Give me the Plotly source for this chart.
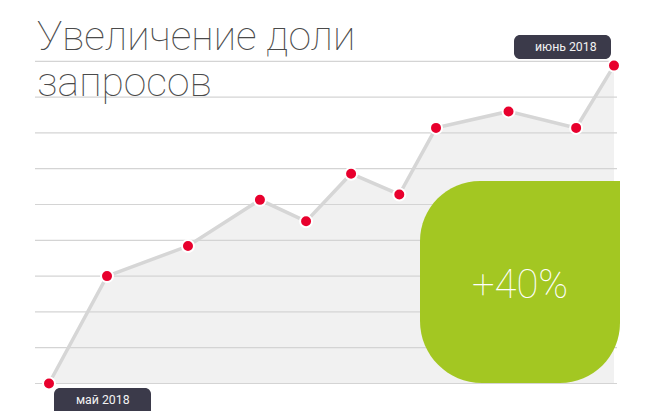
import plotly.graph_objects as go

W, H = 656, 411

# Data: day offset from start (May 2018 -> June 2018) and relative request share
days = [0, 3.08, 7.38, 11.2, 13.65, 16.04, 18.6, 20.55, 24.4, 27.99, 30]
share = [0, 3.0, 3.84, 5.13, 4.53, 5.86, 5.28, 7.14, 7.60, 7.14, 8.88]
grid_levels = [0, 1, 2, 3, 4, 5, 6, 7, 8, 9]
title_lines = ["Увеличение доли", "запросов"]
start_label = "май 2018"
end_label = "июнь 2018"
growth_label = "+40%"

# axis scaling (pixels per unit)
X0_PX, XPU = 49.0, 18.833
Y0_PX, YPU = 383.5, 35.8
x_range = [-X0_PX / XPU, (W - X0_PX) / XPU]
y_range = [-(H - Y0_PX) / YPU, Y0_PX / YPU]


def px(x):
    return x / W


def py(y):
    return 1 - y / H


def rounded_path(x0, y0, x1, y1, r_tl, r_tr, r_br, r_bl):
    # pixel coordinates (y downwards) -> paper path
    k = 0.5523
    p = []
    p.append(f"M {px(x0 + r_tl)},{py(y0)}")
    p.append(f"L {px(x1 - r_tr)},{py(y0)}")
    p.append(f"C {px(x1 - r_tr + k * r_tr)},{py(y0)} {px(x1)},{py(y0 + r_tr - k * r_tr)} {px(x1)},{py(y0 + r_tr)}")
    p.append(f"L {px(x1)},{py(y1 - r_br)}")
    p.append(f"C {px(x1)},{py(y1 - r_br + k * r_br)} {px(x1 - r_br + k * r_br)},{py(y1)} {px(x1 - r_br)},{py(y1)}")
    p.append(f"L {px(x0 + r_bl)},{py(y1)}")
    p.append(f"C {px(x0 + r_bl - k * r_bl)},{py(y1)} {px(x0)},{py(y1 - r_bl + k * r_bl)} {px(x0)},{py(y1 - r_bl)}")
    p.append(f"L {px(x0)},{py(y0 + r_tl)}")
    p.append(f"C {px(x0)},{py(y0 + r_tl - k * r_tl)} {px(x0 + r_tl - k * r_tl)},{py(y0)} {px(x0 + r_tl)},{py(y0)}")
    p.append("Z")
    return " ".join(p)


fig = go.Figure()

# filled area under the line
fig.add_trace(go.Scatter(
    x=days, y=share, mode="none", fill="tozeroy", fillcolor="#f1f1f1",
    hoverinfo="skip", showlegend=False))

# grid lines
gx0 = (35 - X0_PX) / XPU
gx1 = (617 - X0_PX) / XPU
gxs, gys = [], []
for g in grid_levels:
    gxs += [gx0, gx1, None]
    gys += [g, g, None]
fig.add_trace(go.Scatter(
    x=gxs, y=gys, mode="lines", line=dict(color="#d4d4d4", width=1.2),
    hoverinfo="skip", showlegend=False))

# line with markers
fig.add_trace(go.Scatter(
    x=days, y=share, mode="lines+markers",
    line=dict(color="#d6d6d6", width=3.5),
    marker=dict(color="#e8002d", size=12, line=dict(color="white", width=2)),
    showlegend=False))

shapes = [
    dict(type="path", xref="paper", yref="paper",
         path=rounded_path(420, 181, 620, 383, 60, 0, 60, 62),
         fillcolor="#a3c722", line=dict(width=0), layer="above"),
    dict(type="path", xref="paper", yref="paper",
         path=rounded_path(514, 35, 611, 59, 6, 6, 6, 6),
         fillcolor="#3b3a4a", line=dict(width=0), layer="above"),
    dict(type="path", xref="paper", yref="paper",
         path=rounded_path(54, 388, 151, 418, 6, 6, 6, 6),
         fillcolor="#3b3a4a", line=dict(width=0), layer="above"),
]

title_font = dict(family="Roboto", size=40.8, color="#4a4a4a", weight=100)
annotations = [
    dict(text=title_lines[0], x=px(35), y=py(36), xref="paper", yref="paper",
         xanchor="left", yanchor="middle", showarrow=False, font=title_font),
    dict(text=title_lines[1], x=px(35), y=py(82), xref="paper", yref="paper",
         xanchor="left", yanchor="middle", showarrow=False, font=title_font),
    dict(text=growth_label, x=px(520), y=py(284), xref="paper", yref="paper",
         xanchor="center", yanchor="middle", showarrow=False,
         font=dict(family="Roboto", size=40, color="white", weight=100)),
    dict(text=end_label, x=px(566), y=py(47), xref="paper", yref="paper",
         xanchor="center", yanchor="middle", showarrow=False,
         font=dict(family="Roboto", size=12.3, color="#f2f2f2")),
    dict(text=start_label, x=px(102.5), y=py(400), xref="paper", yref="paper",
         xanchor="center", yanchor="middle", showarrow=False,
         font=dict(family="Roboto", size=12.3, color="#f2f2f2")),
]

fig.update_layout(
    width=W, height=H, margin=dict(l=0, r=0, t=0, b=0),
    paper_bgcolor="white", plot_bgcolor="white",
    xaxis=dict(range=x_range, visible=False, fixedrange=True),
    yaxis=dict(range=y_range, visible=False, fixedrange=True),
    shapes=shapes, annotations=annotations,
)

fig.write_html("out.html", config=dict(displayModeBar=False),
               post_script="document.body.style.margin='0';")
